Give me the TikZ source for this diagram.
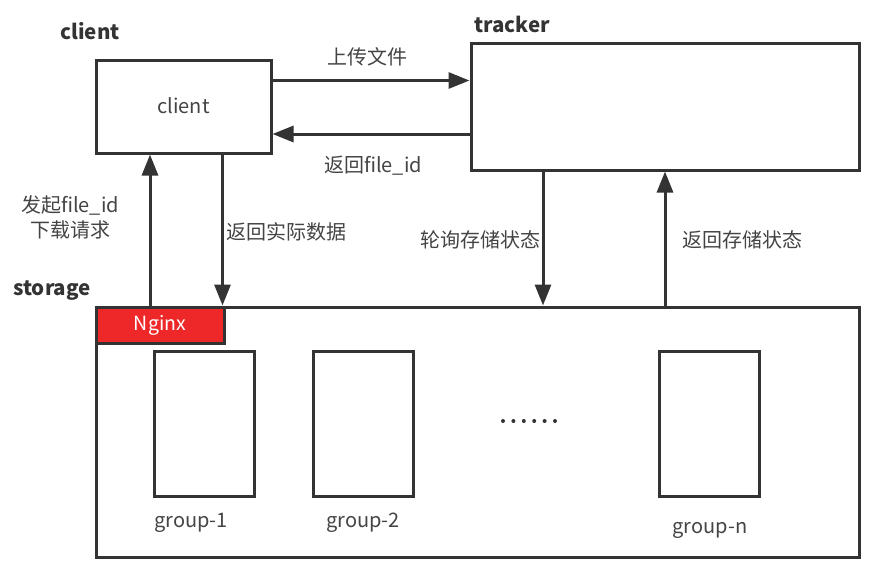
\documentclass[tikz,border=0pt]{standalone}
\usepackage{fontspec}
\setmainfont{Noto Sans CJK SC}
\usetikzlibrary{arrows.meta}
\definecolor{ln}{RGB}{51,51,51}
\definecolor{tx}{RGB}{68,68,68}
\definecolor{ngx}{RGB}{238,40,40}
\tikzset{
  box/.style={draw=ln, line width=3pt, rectangle, inner sep=0pt, fill=white},
  arr/.style={draw=ln, line width=3pt, -{Triangle[length=21pt,width=16pt]}},
  lbl/.style={text=tx, font=\fontsize{20}{25}\selectfont, inner sep=0pt},
  ttl/.style={text=ln, font=\fontsize{20.5}{25}\selectfont\bfseries, inner sep=0pt},
  dot/.style={circle, fill=ln, inner sep=0pt, minimum size=4pt},
}
\begin{document}
\begin{tikzpicture}[x=1pt,y=-1pt]
\useasboundingbox (0,0) rectangle (888,582);
% boxes
\node[box, minimum width=175pt, minimum height=93pt] (client) at (183.5,106.5) {};
\node[lbl] (clienttxt) at (183.5,106) {client};
\node[box, minimum width=388pt, minimum height=127pt] (tracker) at (665,106.5) {};
\node[box, minimum width=763pt, minimum height=250pt] (storage) at (477.5,432) {};
\node[box, fill=ngx, minimum width=128pt, minimum height=36pt] (nginx) at (160,325) {};
\node[text=white, font=\fontsize{19.5}{24}\selectfont, inner sep=0pt] (nginxtxt) at (160,325) {Nginx};
\foreach \n/\x in {g1/204, g2/363, gn/709.5}{
  \node[box, minimum width=100pt, minimum height=145pt] (\n) at (\x,423.5) {};
}
\node[lbl] (g1t) at (191,523) {group-1};
\node[lbl] (g2t) at (363,523) {group-2};
\node[lbl] (gnt) at (710,530) {group-n};
\foreach \i in {0,...,5}{
  \node[dot] (d\i) at (503+10.4*\i,421) {};
}
% titles
\node[ttl] (tclient) at (90,31) {client};
\node[ttl] (ttracker) at (512,24) {tracker};
\node[ttl] (tstorage) at (52,291) {storage};
% arrows
\draw[arr] ([yshift=26pt]client.east) -- ([yshift=26pt]client.east -| tracker.west);
\draw[arr] ([yshift=-27.5pt]tracker.west) -- ([yshift=-27.5pt]tracker.west -| client.east);
\draw[arr] ([xshift=-10pt]nginx.north) -- ([xshift=-10pt]nginx.north |- client.south);
\draw[arr] ([xshift=39pt]client.south) -- ([xshift=39pt]client.south |- nginx.north);
\draw[arr] ([xshift=-122pt]tracker.south) -- ([xshift=-122pt]tracker.south |- storage.north);
\draw[arr] (storage.north -| tracker.south) -- (tracker.south);
% labels
\node[lbl] (l1) at (367,57) {上传文件};
\node[lbl] (l2) at (373,166) {返回file\_id};
\node[lbl, align=center] (l3) at (70,217) {发起file\_id\\下载请求};
\node[lbl, anchor=west] (l4) at (226,232) {返回实际数据};
\node[lbl] (l5) at (480,240) {轮询存储状态};
\node[lbl] (l6) at (742,240) {返回存储状态};
\end{tikzpicture}
\end{document}
